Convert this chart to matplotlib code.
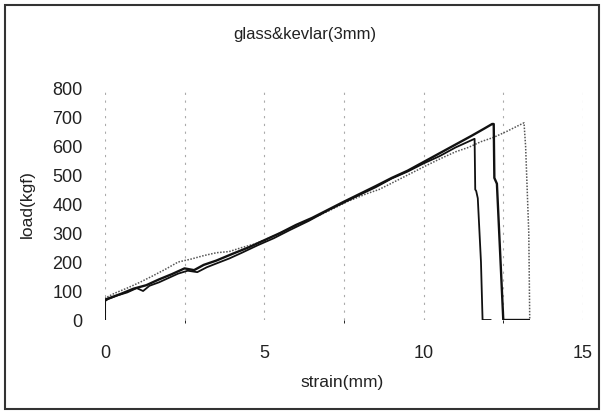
import matplotlib
matplotlib.use('Agg')
import matplotlib.pyplot as plt
from matplotlib.patches import Rectangle

# strain (mm) / load (kgf)
strain_a = [0, 0, 0.1, 0.4, 0.7, 1.0, 1.2, 1.4, 1.7, 2.0, 2.3, 2.6, 2.9, 3.2, 3.5, 3.9,
            4.3, 4.8, 5.3, 5.8, 6.4, 7.0, 7.5, 8.0, 8.5, 9.0, 9.5, 10.0, 10.5, 11.0,
            11.3, 11.6, 11.62, 11.65, 11.7, 11.8, 11.85, 12.1]
load_a = [0, 65, 72, 85, 95, 110, 100, 118, 130, 145, 160, 170, 165, 182, 195, 212,
          232, 258, 282, 310, 342, 378, 405, 432, 458, 488, 512, 540, 565, 595,
          610, 625, 450, 445, 420, 200, 0, 0]

strain_b = [0, 0, 0.2, 0.5, 0.9, 1.3, 1.7, 2.1, 2.5, 2.8, 3.1, 3.5, 4.0, 4.5, 5.0,
            5.5, 6.0, 6.5, 7.0, 7.5, 8.0, 8.5, 9.0, 9.5, 10.0, 10.5, 11.0, 11.5,
            11.9, 12.15, 12.2, 12.22, 12.3, 12.5, 13.3]
load_b = [0, 70, 78, 90, 108, 120, 140, 158, 178, 172, 190, 205, 228, 250, 275,
          300, 328, 352, 380, 408, 435, 462, 490, 515, 545, 575, 605, 635,
          660, 676, 676, 490, 470, 0, 0]

strain_c = [0, 0, 0.3, 0.7, 1.1, 1.5, 1.9, 2.3, 2.7, 3.1, 3.5, 3.9, 4.3, 4.7, 5.2,
            5.8, 6.4, 7.0, 7.6, 8.2, 8.6, 9.0, 9.5, 10.0, 10.5, 11.0, 11.4, 11.8,
            12.2, 12.6, 13.0, 13.15, 13.2, 13.3, 13.33]
load_c = [0, 75, 92, 110, 130, 152, 175, 200, 210, 222, 232, 236, 250, 262, 285,
          315, 345, 375, 408, 435, 450, 472, 500, 528, 555, 580, 595, 615,
          630, 650, 672, 680, 600, 300, 0]

x_ticks = [0, 5, 10, 15]
x_grid = [2.5, 7.5, 12.5]
y_ticks = [0, 100, 200, 300, 400, 500, 600, 700, 800]

plt.rcParams['font.family'] = ['Liberation Sans', 'DejaVu Sans']

fig = plt.figure(figsize=(6.06, 4.12), dpi=100)
ax = fig.add_axes([0.173, 0.2233, 0.789, 0.563])

ax.plot(strain_c, load_c, color='#555555', lw=1.1, ls=(0, (1, 1)))
ax.plot(strain_a, load_a, color='#111111', lw=1.3)
ax.plot(strain_b, load_b, color='#111111', lw=1.7)

ax.set_xlim(0, 15)
ax.set_ylim(0, 800)
ax.set_xticks(x_ticks)
ax.set_xticks(x_grid, minor=True)
ax.set_yticks(y_ticks)
ax.grid(True, which='both', axis='x', color='#aaaaaa', lw=0.8, ls=(0, (2, 5)))
ax.tick_params(length=0, labelsize=13, colors='#222222')
ax.tick_params(axis='x', which='both', pad=18)
ax.tick_params(axis='y', pad=16)
for s in ax.spines.values():
    s.set_visible(False)

fig.text(305 / 606, 1 - 35 / 412, 'glass&kevlar(3mm)', ha='center', va='center',
         fontsize=12, color='#222222')
fig.text(342 / 606, 1 - 383 / 412, 'strain(mm)', ha='center', va='center',
         fontsize=12.5, color='#222222')
fig.text(27 / 606, 1 - 204 / 412, 'load(kgf)', ha='center', va='center',
         rotation=90, fontsize=12.5, color='#222222')

fig.patches.append(Rectangle((5 / 606, 3 / 412), 594 / 606, 404 / 412,
                             transform=fig.transFigure, fill=False,
                             edgecolor='#333333', lw=1.5))

fig.savefig('out.png', dpi=100)
